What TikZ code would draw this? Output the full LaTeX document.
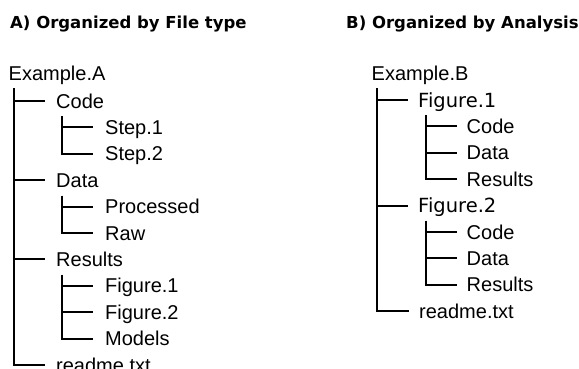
\documentclass[tikz,border=0pt]{standalone}
\usepackage{fontspec}
\setmainfont{Liberation Sans}
\newfontfamily\verdanafont{DejaVu Sans}
\usetikzlibrary{positioning,calc}

\tikzset{
    heading/.style={anchor=base west,inner sep=0pt,font=\verdanafont\bfseries\fontsize{16.5}{18}\selectfont},
    entry/.style={anchor=west,inner sep=0pt,text height=14.3pt,text depth=0pt,font=\fontsize{20}{22}\selectfont},
    wideentry/.style={entry,font=\verdanafont\fontsize{19.5}{22}\selectfont},
    branch/.style={black,line width=2pt}
}

\begin{document}
\begin{tikzpicture}[x=1pt,y=-1pt]
            \useasboundingbox (0,0) rectangle (579,369);
            \fill[white] (0,0) rectangle (579,369);
            % titles
            \node[heading] (titleA) at (10,29) {A) Organized by File type};
            \node[heading] (titleB) at (346,29) {B) Organized by Analysis};
            % tree A
            \node[entry] (exA) at (8.5,73) {Example.A};
            \foreach \n/\t/\r in {codeA/Code/1, dataA/Data/4, resA/Results/7, readA/readme.txt/11} {
                \node[entry] (\n) at (56,{101+26.4*(\r-1)}) {\t};
            }
            \foreach \n/\t/\r in {stepa/Step.1/2, stepb/Step.2/3, procA/Processed/5, rawA/Raw/6, figa/Figure.1/8, figb/Figure.2/9, modA/Models/10} {
                \node[entry] (\n) at (105,{101+26.4*(\r-1)}) {\t};
            }
            \coordinate (trunkA) at ($(exA.south west)+(5.5,8)$);
            \foreach \n in {codeA, dataA, resA, readA} {
                \draw[branch] (trunkA) |- ($(\n.west)+(-11,0)$);
            }
            \foreach \p/\c in {codeA/stepa, codeA/stepb, dataA/procA, dataA/rawA, resA/figa, resA/figb, resA/modA} {
                \draw[branch] ($(\p.south west)+(6,8)$) |- ($(\c.west)+(-12,0)$);
            }
            % tree B
            \node[entry] (exB) at (371.5,73) {Example.B};
            \node[wideentry] (figB1) at (418,100) {Figure.1};
            \node[wideentry] (figB2) at (418,{100+26.4*4}) {Figure.2};
            \node[entry] (readB) at (419,{100+26.4*8}) {readme.txt};
            \foreach \n/\t/\r in {codeB1/Code/1, dataB1/Data/2, resB1/Results/3, codeB2/Code/5, dataB2/Data/6, resB2/Results/7} {
                \node[entry] (\n) at (466.5,{100+26.4*\r}) {\t};
            }
            \coordinate (trunkB) at ($(exB.south west)+(5.5,8)$);
            \foreach \n in {figB1, figB2, readB} {
                \draw[branch] (trunkB) |- ($(\n.west)+(-10,0)$);
            }
            \foreach \p/\c in {figB1/codeB1, figB1/dataB1, figB1/resB1, figB2/codeB2, figB2/dataB2, figB2/resB2} {
                \draw[branch] ($(\p.south west)+(8,8)$) |- ($(\c.west)+(-9.5,0)$);
            }
        \end{tikzpicture}
\end{document}
